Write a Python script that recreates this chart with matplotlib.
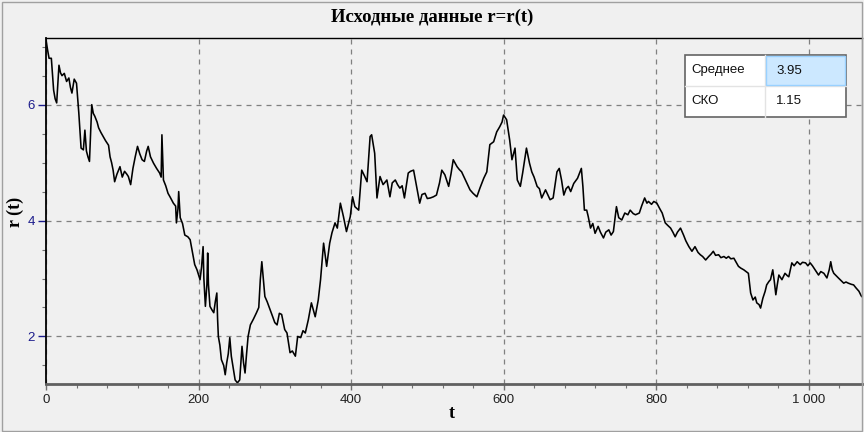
import matplotlib
matplotlib.use("Agg")
import matplotlib.pyplot as plt
from matplotlib.patches import Rectangle
from matplotlib.ticker import MultipleLocator, FuncFormatter, FixedLocator

# ---- data ----
t_vals = [0, 2, 4, 7, 10, 12, 14, 17, 19, 21, 24, 27, 30, 32, 34, 37, 40, 43, 46, 49,
          51, 53, 55, 57, 60, 62, 64, 67, 69, 72, 75, 78, 80, 82, 84, 86, 88, 90, 93, 97,
          100, 103, 106, 108, 111, 114, 117, 120, 123, 126, 129, 132, 134, 137, 141, 145, 149, 151, 152, 154,
          157, 160, 163, 167, 170, 171, 173, 174, 176, 179, 182, 186, 189, 192, 195, 198, 202, 204, 206, 207,
          209, 211, 212, 213, 215, 218, 220, 222, 224, 225, 226, 228, 230, 233, 235, 237, 239, 241, 243, 245,
          248, 251, 254, 257, 259, 261, 263, 265, 268, 272, 276, 279, 281, 283, 285, 287, 290, 294, 297, 300,
          303, 306, 309, 313, 316, 320, 323, 327, 330, 334, 337, 340, 344, 348, 353, 357, 360, 364, 368, 372,
          375, 379, 382, 386, 390, 394, 399, 402, 405, 410, 414, 418, 421, 425, 427, 431, 434, 438, 442, 447,
          451, 454, 458, 461, 464, 467, 470, 475, 478, 482, 486, 490, 493, 497, 500, 504, 508, 512, 516, 519,
          523, 528, 531, 534, 539, 542, 545, 550, 553, 556, 560, 565, 569, 574, 578, 582, 587, 591, 595, 598,
          600, 604, 608, 611, 615, 618, 622, 625, 630, 634, 637, 640, 644, 647, 650, 655, 661, 665, 670, 673,
          676, 679, 682, 685, 688, 692, 697, 702, 704, 706, 709, 711, 714, 717, 720, 724, 727, 731, 734, 738,
          741, 744, 748, 751, 755, 759, 763, 766, 770, 773, 778, 781, 785, 788, 790, 794, 797, 801, 805, 808,
          812, 815, 819, 822, 825, 828, 832, 836, 839, 843, 847, 851, 855, 858, 861, 865, 869, 872, 875, 878,
          882, 885, 889, 892, 895, 898, 902, 905, 908, 911, 915, 918, 921, 924, 927, 930, 932, 935, 937, 940,
          943, 945, 948, 950, 953, 955, 957, 959, 961, 965, 969, 972, 974, 978, 981, 985, 989, 992, 996, 999,
          1002, 1005, 1007, 1010, 1013, 1016, 1020, 1024, 1027, 1029, 1031, 1033, 1036, 1039, 1043, 1046, 1049, 1052, 1056, 1059,
          1062, 1066, 1069, 1072]
r_vals = [7.12, 6.95, 6.80, 6.80, 6.25, 6.10, 6.03, 6.68, 6.55, 6.50, 6.54, 6.40, 6.46, 6.30, 6.20, 6.44, 6.37, 5.86, 5.25, 5.22,
          5.56, 5.20, 5.10, 5.02, 6.00, 5.85, 5.80, 5.70, 5.60, 5.52, 5.45, 5.38, 5.34, 5.30, 5.10, 5.00, 4.87, 4.67, 4.80, 4.93,
          4.75, 4.85, 4.80, 4.76, 4.62, 4.90, 5.10, 5.28, 5.15, 5.05, 5.02, 5.20, 5.28, 5.10, 4.99, 4.90, 4.82, 4.75, 5.48, 4.70,
          4.60, 4.47, 4.40, 4.30, 4.25, 3.96, 4.20, 4.50, 4.05, 3.95, 3.75, 3.72, 3.67, 3.45, 3.24, 3.15, 2.98, 3.20, 3.55, 3.00,
          2.52, 2.90, 3.44, 2.90, 2.52, 2.45, 2.41, 2.60, 2.75, 2.30, 2.00, 1.85, 1.60, 1.50, 1.34, 1.55, 1.70, 1.98, 1.66, 1.50,
          1.25, 1.20, 1.25, 1.83, 1.55, 1.37, 1.70, 2.00, 2.20, 2.30, 2.41, 2.50, 2.98, 3.29, 3.00, 2.69, 2.60, 2.46, 2.35, 2.24,
          2.20, 2.40, 2.38, 2.12, 2.06, 1.72, 1.75, 1.66, 2.00, 1.98, 2.10, 2.06, 2.29, 2.58, 2.34, 2.63, 2.98, 3.61, 3.21, 3.61,
          3.79, 3.96, 3.87, 4.30, 4.07, 3.81, 4.07, 4.41, 4.24, 4.18, 4.87, 4.76, 4.67, 5.45, 5.48, 5.16, 4.39, 4.76, 4.62, 4.70,
          4.41, 4.65, 4.70, 4.62, 4.56, 4.60, 4.39, 4.82, 4.85, 4.87, 4.59, 4.30, 4.45, 4.47, 4.38, 4.39, 4.41, 4.44, 4.65, 4.87,
          4.79, 4.59, 4.80, 5.05, 4.93, 4.88, 4.84, 4.70, 4.62, 4.53, 4.47, 4.41, 4.56, 4.73, 4.84, 5.31, 5.36, 5.53, 5.62, 5.70,
          5.82, 5.74, 5.39, 5.05, 5.25, 4.70, 4.59, 4.82, 5.25, 4.99, 4.84, 4.75, 4.59, 4.55, 4.39, 4.53, 4.36, 4.39, 4.84, 4.90,
          4.70, 4.44, 4.55, 4.59, 4.50, 4.64, 4.73, 4.90, 4.59, 4.18, 4.18, 4.07, 3.87, 3.95, 3.78, 3.90, 3.80, 3.70, 3.80, 3.84,
          3.75, 3.81, 4.24, 4.05, 4.01, 4.13, 4.10, 4.18, 4.12, 4.10, 4.13, 4.25, 4.39, 4.30, 4.33, 4.28, 4.33, 4.30, 4.20, 4.13,
          3.96, 3.92, 3.87, 3.80, 3.72, 3.80, 3.87, 3.75, 3.65, 3.55, 3.47, 3.55, 3.45, 3.41, 3.38, 3.32, 3.38, 3.42, 3.47, 3.40,
          3.41, 3.36, 3.38, 3.35, 3.38, 3.34, 3.35, 3.28, 3.21, 3.18, 3.15, 3.12, 3.09, 2.75, 2.63, 2.68, 2.58, 2.55, 2.49, 2.66,
          2.78, 2.89, 2.95, 2.98, 3.15, 2.95, 2.72, 2.90, 3.06, 2.98, 3.09, 3.05, 3.03, 3.27, 3.22, 3.29, 3.24, 3.28, 3.27, 3.22,
          3.27, 3.22, 3.18, 3.12, 3.06, 3.12, 3.09, 3.01, 3.15, 3.29, 3.15, 3.09, 3.05, 3.01, 2.96, 2.92, 2.94, 2.92, 2.90, 2.89,
          2.84, 2.78, 2.70, 2.66]

x_major_ticks = [0, 200, 400, 600, 800, 1000]
y_major_ticks = [2, 4, 6]
title_text = "Исходные данные r=r(t)"
x_label = "t"
y_label = "r (t)"
table_labels = ["Среднее", "СКО"]
table_values = ["3.95", "1.15"]

# ---- figure ----
W, H = 864, 432
bg = "#f0f0f0"
fig = plt.figure(figsize=(W / 100, H / 100), dpi=100, facecolor=bg)

# figure frame
fig.patches.append(Rectangle((2 / W, 1 / H), (W - 4) / W, (H - 3) / H, transform=fig.transFigure,
                             fill=False, edgecolor="#a0a0a0", linewidth=1.0))

ax = fig.add_axes([46 / W, 48 / H, 816 / W, 346 / H], facecolor=bg)
ax.plot(t_vals, r_vals, color="black", linewidth=1.15)
ax.set_xlim(0, 1070)
ax.set_ylim(1.18, 7.15)

ax.xaxis.set_major_locator(FixedLocator(x_major_ticks))
ax.yaxis.set_major_locator(FixedLocator(y_major_ticks))
ax.xaxis.set_minor_locator(MultipleLocator(40))
ax.yaxis.set_minor_locator(MultipleLocator(0.5))
ax.xaxis.set_major_formatter(FuncFormatter(lambda v, p: f"{int(v):,}".replace(",", " ")))
ax.yaxis.set_major_formatter(FuncFormatter(lambda v, p: f"{int(v)}"))

ax.grid(True, which="major", color="#808080", linestyle=(0, (4, 4)), linewidth=0.9)

ax.tick_params(axis="y", which="major", length=6, width=1, color="#1c1c8c",
               labelcolor="#1c1c8c", labelsize=9.5, pad=2)
ax.tick_params(axis="y", which="minor", length=3, width=0.8, color="#707070")
ax.tick_params(axis="x", which="major", length=4, width=1, color="#707070",
               labelcolor="#202020", labelsize=9.5, pad=3)
ax.tick_params(axis="x", which="minor", length=3, width=0.8, color="#707070")
for lbl in ax.get_xticklabels() + ax.get_yticklabels():
    lbl.set_family(["Liberation Sans", "DejaVu Sans"])

ax.spines["left"].set_color("black")
ax.spines["left"].set_linewidth(1.3)
ax.spines["bottom"].set_color("#606060")
ax.spines["bottom"].set_linewidth(2.0)
ax.spines["top"].set_color("black")
ax.spines["top"].set_linewidth(1.0)
ax.spines["right"].set_color("#a0a0a0")
ax.spines["right"].set_linewidth(1.0)

serif = ["Liberation Serif", "DejaVu Serif"]
fig.text(432 / W, 1 - 17 / H, title_text, ha="center", va="center",
         fontsize=13.5, fontweight="bold", family=serif)
fig.text(452 / W, 1 - 413 / H, x_label, ha="center", va="center",
         fontsize=13, fontweight="bold", family=serif)
fig.text(15 / W, 1 - 212 / H, y_label, ha="center", va="center", rotation=90,
         fontsize=13, fontweight="bold", family=serif)

# ---- statistics table ----
x0, xm, x1 = 685, 765, 846
y0, ym, y1 = 55, 86, 117
def fx(v): return v / W
def fy(v): return 1 - v / H
fig.patches.append(Rectangle((fx(x0), fy(y1)), fx(x1) - fx(x0), fy(y0) - fy(y1),
                             transform=fig.transFigure, facecolor="white",
                             edgecolor="#646464", linewidth=1.2, zorder=5))
fig.patches.append(Rectangle((fx(xm + 1), fy(ym - 1)), fx(x1 - 1) - fx(xm + 1), fy(y0 + 1) - fy(ym - 1),
                             transform=fig.transFigure, facecolor="#cce8ff",
                             edgecolor="#99d1ff", linewidth=1.0, zorder=6))
fig.lines.append(plt.Line2D([fx(x0), fx(x1)], [fy(ym), fy(ym)], transform=fig.transFigure,
                            color="#e3e3e3", linewidth=1.0, zorder=6))
fig.lines.append(plt.Line2D([fx(xm), fx(xm)], [fy(y0), fy(y1)], transform=fig.transFigure,
                            color="#e3e3e3", linewidth=1.0, zorder=6))
sans = ["Liberation Sans", "DejaVu Sans"]
rows_y = [(y0 + ym) / 2, (ym + y1) / 2]
for lab, val, yy in zip(table_labels, table_values, rows_y):
    fig.text(fx(x0 + 6), fy(yy), lab, ha="left", va="center", fontsize=9.5,
             family=sans, color="#101010", zorder=7)
    fig.text(fx(xm + 11), fy(yy), val, ha="left", va="center", fontsize=9.5,
             family=sans, color="#101010", zorder=7)

fig.savefig("out.png", dpi=100, facecolor=bg)
